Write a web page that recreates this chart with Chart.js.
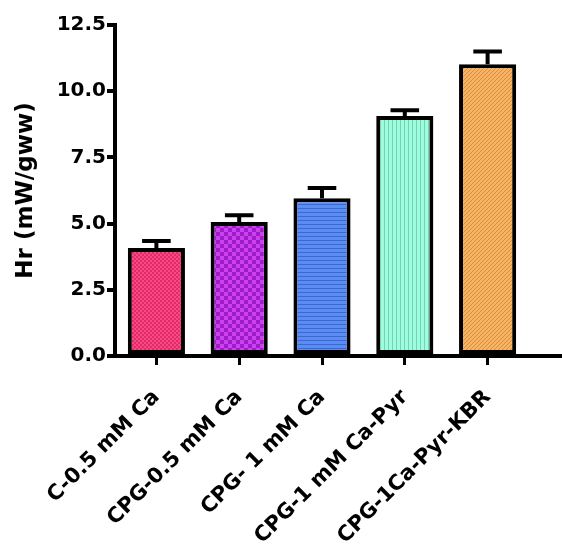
<!DOCTYPE html>
<html>
<head>
<meta charset="utf-8">
<script src="https://cdn.jsdelivr.net/npm/chart.js@4.4.0/dist/chart.umd.min.js"></script>
<style>
  html, body { margin: 0; padding: 0; background: #fff; }
  #wrap { width: 562px; height: 544px; }
</style>
</head>
<body>
<div id="wrap"><canvas id="hrChart" width="562" height="544"></canvas></div>
<script>
// Data
const categories = ['C-0.5 mM Ca', 'CPG-0.5 mM Ca', 'CPG- 1 mM Ca', 'CPG-1 mM Ca-Pyr', 'CPG-1Ca-Pyr-KBR'];
const hrValues = [4.08, 5.06, 5.96, 9.06, 11.02];
const hrErrors = [0.26, 0.26, 0.38, 0.22, 0.48];
const yTicks = [0, 2.5, 5, 7.5, 10, 12.5];

// Fill patterns: base colour + small repeating motif
function makePattern(base, ink, kind) {
    const c = document.createElement('canvas');
    const s = kind === 'check2' ? 8 : 4;
    c.width = s; c.height = s;
    const g = c.getContext('2d');
    g.fillStyle = base;
    g.fillRect(0, 0, s, s);
    g.fillStyle = ink;
    g.strokeStyle = ink;
    if (kind === 'check' || kind === 'check2') {
        const h = s / 2;
        g.fillRect(0, 0, h, h);
        g.fillRect(h, h, h, h);
    } else if (kind === 'hstripe') {
        g.fillRect(0, 0, s, 1);
    } else if (kind === 'vstripe') {
        g.fillRect(0, 0, 1, s);
    } else if (kind === 'diag') {
        g.lineWidth = 1;
        g.beginPath();
        g.moveTo(0, s); g.lineTo(s, 0);
        g.moveTo(-1, 1); g.lineTo(1, -1);
        g.moveTo(s - 1, s + 1); g.lineTo(s + 1, s - 1);
        g.stroke();
    }
    return g.createPattern(c, 'repeat');
}

const ctx0 = document.getElementById('hrChart').getContext('2d');
const barFills = [
    makePattern('#f74a82', '#e22a6a', 'check'),
    makePattern('#cf3ff0', '#9a1fc8', 'check2'),
    makePattern('#5a8cf2', '#3c68d6', 'hstripe'),
    makePattern('#a0fcdc', '#6cd6b6', 'vstripe'),
    makePattern('#f7b465', '#d98c3c', 'diag')
];

// Error bars (upper half only, with caps)
const errorBars = {
    id: 'errorBars',
    afterDatasetsDraw(chart) {
        const ctx = chart.ctx;
        const meta = chart.getDatasetMeta(0);
        const y = chart.scales.y;
        ctx.save();
        ctx.strokeStyle = '#000';
        ctx.lineWidth = 4;
        meta.data.forEach((bar, i) => {
            const top = y.getPixelForValue(hrValues[i]);
            const hi = y.getPixelForValue(hrValues[i] + hrErrors[i]);
            const half = bar.width / 4;
            ctx.beginPath();
            ctx.moveTo(bar.x, top);
            ctx.lineTo(bar.x, hi);
            ctx.moveTo(bar.x - half, hi);
            ctx.lineTo(bar.x + half, hi);
            ctx.stroke();
        });
        ctx.restore();
    }
};

// The x axis line runs on past the last category
const axisTail = {
    id: 'axisTail',
    afterDraw(chart) {
        const ctx = chart.ctx;
        const a = chart.chartArea;
        ctx.save();
        ctx.strokeStyle = '#000';
        ctx.lineWidth = 4;
        ctx.beginPath();
        ctx.moveTo(a.right - 2, a.bottom);
        ctx.lineTo(chart.width, a.bottom);
        ctx.stroke();
        ctx.restore();
    }
};

Chart.defaults.font.family = '"DejaVu Sans", "Liberation Sans", Arial, sans-serif';
Chart.defaults.font.weight = 'bold';
Chart.defaults.color = '#000';

new Chart(ctx0, {
    type: 'bar',
    data: {
        labels: categories,
        datasets: [{
            data: hrValues,
            backgroundColor: barFills,
            borderColor: '#000',
            borderWidth: 4,
            borderSkipped: false,
            barPercentage: 0.69,
            categoryPercentage: 1.0
        }]
    },
    options: {
        responsive: false,
        animation: false,
        layout: { padding: { top: 25, right: 33, left: 0, bottom: 0 } },
        plugins: { legend: { display: false }, tooltip: { enabled: false } },
        scales: {
            x: {
                offset: true,
                afterFit: (scale) => { scale.height = 188; },
                border: { display: true, color: '#000', width: 4 },
                grid: { display: true, drawOnChartArea: false, drawTicks: true, tickLength: 9, lineWidth: 3, color: '#000', offset: false },
                ticks: {
                    font: { size: 21, weight: 'bold' },
                    maxRotation: 45,
                    minRotation: 45,
                    autoSkip: false,
                    padding: 20
                }
            },
            y: {
                min: 0,
                max: 12.5,
                afterFit: (scale) => { scale.width = 115; },
                afterBuildTicks: (scale) => { scale.ticks = yTicks.map(v => ({ value: v })); },
                border: { display: true, color: '#000', width: 4 },
                grid: { display: true, drawOnChartArea: false, drawTicks: true, tickLength: 8, lineWidth: 4, color: '#000' },
                ticks: {
                    font: { size: 20, weight: 'bold' },
                    padding: 1,
                    callback: (v) => Number(v).toFixed(1)
                },
                title: {
                    display: true,
                    text: 'Hr (mW/gww)',
                    font: { size: 23, weight: 'bold' },
                    padding: { top: 12, bottom: 0 }
                }
            }
        }
    },
    plugins: [errorBars, axisTail]
});
</script>
</body>
</html>
